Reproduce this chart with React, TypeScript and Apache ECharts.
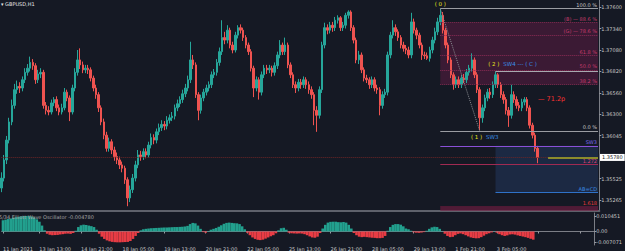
import React, { useEffect, useRef } from "react";
import * as echarts from "echarts";

// ---------- data ----------
const dateLabels = ["11 Jan 2021", "13 Jan 13:00", "14 Jan 21:00", "18 Jan 05:00", "19 Jan 13:00", "20 Jan 21:00", "22 Jan 05:00", "25 Jan 13:00", "26 Jan 21:00", "28 Jan 05:00", "29 Jan 13:00", "1 Feb 21:00", "3 Feb 05:00"];
const priceTicks = [1.376, 1.3734, 1.3708, 1.3682, 1.3656, 1.363, 1.36045, 1.35525, 1.35265];
const oscTicks = [0.010451, 0, -0.007071];

const firstOpen = 1.3541;
const closes = [
  1.3553, 1.3575, 1.3599, 1.3621, 1.3641, 1.3660, 1.3664, 1.3662, 1.3672, 1.3681,
  1.3686, 1.3693, 1.3689, 1.3672, 1.3679, 1.3681, 1.3641, 1.3635, 1.3633, 1.3644,
  1.3648, 1.3638, 1.3633, 1.3638, 1.3657, 1.3650, 1.3633, 1.3662, 1.3681, 1.3696,
  1.3690, 1.3684, 1.3686, 1.3684, 1.3674, 1.3662, 1.3654, 1.3638, 1.3621, 1.3605,
  1.3589, 1.3597, 1.3587, 1.3579, 1.3575, 1.3569, 1.3565, 1.3551, 1.3529, 1.3539,
  1.3553, 1.3569, 1.3581, 1.3579, 1.3585, 1.3581, 1.3593, 1.3602, 1.3599, 1.3609,
  1.3614, 1.3618, 1.3616, 1.3623, 1.3626, 1.3628, 1.3638, 1.3643, 1.3648, 1.3655,
  1.3662, 1.3672, 1.3696, 1.3690, 1.3654, 1.3635, 1.3650, 1.3657, 1.3662, 1.3666,
  1.3678, 1.3681, 1.3693, 1.3706, 1.3723, 1.3720, 1.3732, 1.3714, 1.3708, 1.3726,
  1.3735, 1.3732, 1.3723, 1.3714, 1.3706, 1.3686, 1.3662, 1.3672, 1.3657, 1.3678,
  1.3686, 1.3684, 1.3686, 1.3681, 1.3689, 1.3702, 1.3714, 1.3706, 1.3714, 1.3690,
  1.3678, 1.3666, 1.3662, 1.3669, 1.3666, 1.3672, 1.3666, 1.3660, 1.3654, 1.3635,
  1.3629, 1.3660, 1.3714, 1.3735, 1.3732, 1.3738, 1.3735, 1.3744, 1.3747, 1.3735,
  1.3738, 1.3750, 1.3754, 1.3735, 1.3720, 1.3696, 1.3702, 1.3684, 1.3674, 1.3672,
  1.3666, 1.3672, 1.3662, 1.3660, 1.3641, 1.3654, 1.3657, 1.3702, 1.3726, 1.3735,
  1.3730, 1.3723, 1.3714, 1.3710, 1.3708, 1.3702, 1.3742, 1.3732, 1.3726, 1.3714,
  1.3702, 1.3701, 1.3698, 1.3708, 1.3720, 1.3730, 1.3742, 1.3750, 1.3732, 1.3714,
  1.3696, 1.3678, 1.3666, 1.3672, 1.3666, 1.3674, 1.3672, 1.3681, 1.3686, 1.3696,
  1.3678, 1.3660, 1.3626, 1.3638, 1.3650, 1.3657, 1.3654, 1.3666, 1.3678, 1.3666,
  1.3654, 1.3648, 1.3635, 1.3629, 1.3654, 1.3648, 1.3641, 1.3638, 1.3645, 1.3648,
  1.3638, 1.3617, 1.3605, 1.3589, 1.3578,
];
const highs = [
  1.3560, 1.3581, 1.3604, 1.3626, 1.3648, 1.3667, 1.3671, 1.3669, 1.3676, 1.3686,
  1.3691, 1.3700, 1.3697, 1.3692, 1.3684, 1.3686, 1.3684, 1.3645, 1.3640, 1.3648,
  1.3651, 1.3652, 1.3642, 1.3643, 1.3662, 1.3660, 1.3653, 1.3666, 1.3686, 1.3708,
  1.3710, 1.3694, 1.3690, 1.3690, 1.3687, 1.3677, 1.3666, 1.3657, 1.3641, 1.3625,
  1.3609, 1.3602, 1.3600, 1.3591, 1.3584, 1.3579, 1.3573, 1.3568, 1.3554, 1.3544,
  1.3558, 1.3574, 1.3587, 1.3586, 1.3589, 1.3589, 1.3597, 1.3607, 1.3606, 1.3613,
  1.3619, 1.3623, 1.3622, 1.3628, 1.3630, 1.3633, 1.3642, 1.3648, 1.3652, 1.3660,
  1.3667, 1.3677, 1.3718, 1.3702, 1.3693, 1.3657, 1.3654, 1.3661, 1.3666, 1.3670,
  1.3682, 1.3685, 1.3697, 1.3711, 1.3744, 1.3730, 1.3738, 1.3735, 1.3718, 1.3730,
  1.3738, 1.3739, 1.3735, 1.3726, 1.3717, 1.3709, 1.3689, 1.3676, 1.3675, 1.3682,
  1.3690, 1.3690, 1.3690, 1.3689, 1.3693, 1.3706, 1.3720, 1.3717, 1.3723, 1.3717,
  1.3693, 1.3681, 1.3670, 1.3673, 1.3673, 1.3676, 1.3675, 1.3670, 1.3664, 1.3657,
  1.3640, 1.3664, 1.3718, 1.3741, 1.3739, 1.3742, 1.3742, 1.3748, 1.3750, 1.3749,
  1.3742, 1.3753, 1.3756, 1.3756, 1.3738, 1.3723, 1.3707, 1.3705, 1.3687, 1.3678,
  1.3675, 1.3676, 1.3675, 1.3666, 1.3663, 1.3658, 1.3661, 1.3706, 1.3730, 1.3744,
  1.3739, 1.3733, 1.3726, 1.3718, 1.3714, 1.3712, 1.3753, 1.3746, 1.3735, 1.3729,
  1.3717, 1.3706, 1.3705, 1.3712, 1.3724, 1.3735, 1.3747, 1.3758, 1.3754, 1.3735,
  1.3717, 1.3699, 1.3681, 1.3676, 1.3676, 1.3678, 1.3679, 1.3685, 1.3690, 1.3704,
  1.3699, 1.3681, 1.3663, 1.3642, 1.3654, 1.3661, 1.3662, 1.3670, 1.3682, 1.3680,
  1.3669, 1.3658, 1.3651, 1.3639, 1.3666, 1.3658, 1.3652, 1.3645, 1.3649, 1.3651,
  1.3651, 1.3641, 1.3620, 1.3608, 1.3592,
];
const lows = [
  1.3536, 1.3549, 1.3570, 1.3595, 1.3617, 1.3637, 1.3655, 1.3656, 1.3658, 1.3668,
  1.3677, 1.3682, 1.3684, 1.3667, 1.3668, 1.3674, 1.3637, 1.3630, 1.3629, 1.3630,
  1.3640, 1.3634, 1.3629, 1.3630, 1.3635, 1.3646, 1.3622, 1.3630, 1.3658, 1.3677,
  1.3685, 1.3680, 1.3680, 1.3679, 1.3670, 1.3658, 1.3649, 1.3633, 1.3617, 1.3600,
  1.3585, 1.3585, 1.3582, 1.3574, 1.3570, 1.3564, 1.3560, 1.3546, 1.3519, 1.3524,
  1.3535, 1.3549, 1.3565, 1.3574, 1.3575, 1.3577, 1.3578, 1.3589, 1.3594, 1.3595,
  1.3605, 1.3610, 1.3611, 1.3612, 1.3619, 1.3622, 1.3624, 1.3634, 1.3639, 1.3644,
  1.3651, 1.3658, 1.3668, 1.3685, 1.3650, 1.3623, 1.3631, 1.3646, 1.3653, 1.3658,
  1.3662, 1.3674, 1.3677, 1.3689, 1.3702, 1.3715, 1.3716, 1.3710, 1.3704, 1.3705,
  1.3722, 1.3728, 1.3719, 1.3710, 1.3702, 1.3682, 1.3651, 1.3658, 1.3648, 1.3653,
  1.3674, 1.3679, 1.3680, 1.3676, 1.3677, 1.3685, 1.3698, 1.3702, 1.3702, 1.3686,
  1.3674, 1.3662, 1.3656, 1.3658, 1.3661, 1.3662, 1.3661, 1.3655, 1.3649, 1.3617,
  1.3609, 1.3625, 1.3656, 1.3710, 1.3727, 1.3728, 1.3730, 1.3731, 1.3740, 1.3731,
  1.3731, 1.3734, 1.3746, 1.3731, 1.3716, 1.3692, 1.3691, 1.3680, 1.3670, 1.3668,
  1.3661, 1.3662, 1.3658, 1.3655, 1.3629, 1.3637, 1.3650, 1.3653, 1.3698, 1.3722,
  1.3725, 1.3719, 1.3710, 1.3706, 1.3703, 1.3698, 1.3698, 1.3728, 1.3721, 1.3710,
  1.3696, 1.3697, 1.3696, 1.3694, 1.3704, 1.3716, 1.3726, 1.3738, 1.3728, 1.3710,
  1.3692, 1.3674, 1.3660, 1.3662, 1.3662, 1.3662, 1.3668, 1.3668, 1.3677, 1.3682,
  1.3674, 1.3656, 1.3611, 1.3620, 1.3634, 1.3646, 1.3649, 1.3650, 1.3662, 1.3662,
  1.3650, 1.3643, 1.3630, 1.3615, 1.3625, 1.3644, 1.3637, 1.3634, 1.3634, 1.3641,
  1.3634, 1.3613, 1.3601, 1.3585, 1.3571,
];
const osc = [
  0.0075, 0.0080, 0.0084, 0.0088, 0.0092, 0.0096, 0.0099, 0.0102, 0.0104, 0.0105,
  0.0104, 0.0101, 0.0094, 0.0082, 0.0066, 0.0040, 0.0008, -0.0015, -0.0022, -0.0025,
  -0.0024, -0.0023, -0.0020, -0.0018, -0.0015, -0.0014, -0.0016, -0.0010, 0.0005, 0.0030,
  0.0042, 0.0046, 0.0044, 0.0040, 0.0036, 0.0030, 0.0012, -0.0015, -0.0035, -0.0050,
  -0.0060, -0.0066, -0.0070, -0.0072, -0.0073, -0.0073, -0.0072, -0.0071, -0.0070, -0.0064,
  -0.0050, -0.0030, -0.0010, 0.0008, 0.0015, 0.0018, 0.0020, 0.0022, 0.0023, 0.0024,
  0.0025, 0.0026, 0.0027, 0.0027, 0.0028, 0.0029, 0.0030, 0.0030, 0.0031, 0.0032,
  0.0034, 0.0038, 0.0050, 0.0058, 0.0055, 0.0040, 0.0018, -0.0004, -0.0008, 0.0003,
  0.0012, 0.0018, 0.0024, 0.0032, 0.0042, 0.0052, 0.0058, 0.0060, 0.0058, 0.0056,
  0.0055, 0.0050, 0.0035, 0.0015, -0.0008, -0.0025, -0.0040, -0.0050, -0.0056, -0.0058,
  -0.0055, -0.0048, -0.0040, -0.0032, -0.0025, -0.0012, 0.0008, 0.0022, 0.0025, 0.0012,
  -0.0008, -0.0012, -0.0013, -0.0014, -0.0013, -0.0014, -0.0018, -0.0025, -0.0033, -0.0040,
  -0.0042, -0.0035, -0.0010, 0.0020, 0.0045, 0.0060, 0.0065, 0.0066, 0.0066, 0.0063,
  0.0062, 0.0064, 0.0060, 0.0045, 0.0020, -0.0010, -0.0025, -0.0035, -0.0038, -0.0036,
  -0.0038, -0.0040, -0.0042, -0.0043, -0.0045, -0.0045, -0.0043, -0.0030, 0.0005, 0.0030,
  0.0045, 0.0050, 0.0050, 0.0046, 0.0035, 0.0020, 0.0015, 0.0005, -0.0005, -0.0008,
  -0.0009, -0.0007, -0.0004, 0.0005, 0.0018, 0.0028, 0.0032, 0.0030, 0.0018, 0.0002,
  -0.0015, -0.0030, -0.0038, -0.0036, -0.0025, -0.0016, -0.0013, -0.0018, -0.0025, -0.0033,
  -0.0040, -0.0044, -0.0046, -0.0045, -0.0038, -0.0028, -0.0018, -0.0012, -0.0006, 0.0002,
  -0.0008, -0.0018, -0.0025, -0.0030, -0.0026, -0.0020, -0.0018, -0.0021, -0.0026, -0.0030,
  -0.0034, -0.0038, -0.0043, -0.0049, -0.0055,
];

// Elliott wave pivots (candle index and price)
const wave0 = { idx: 167, price: 1.3758 };
const wave1 = { idx: 182, price: 1.3610 };
const wave2 = { idx: 188, price: 1.3682 };
const fibRatios = [1, 0.886, 0.786, 0.618, 0.5, 0.382, 0];
const fibNames = ["100.0 %", "(B) — 88.6 %", "(G) — 78.6 %", "61.8 %", "50.0 %", "38.2 %", "0.0 %"];
const extRatios = [1.272, 1.618];
const sw3Level = 1.3592;
const abcdLevel = 1.3536;
const lastPrice = 1.3578;
const pipsLevel = 1.3649;
const pipsText = "71.2p";
const oscValueText = "-0.004780";

// ---------- layout / style ----------
const SLOTS = 228; // candle slots incl. right-side shift
const FIRST_TICK = 14;
const TICK_STEP = 16;
const ASK_FROM = 208;
const Y_MIN = 1.35132;
const Y_MAX = 1.37685;
const BG = "#151924";
const FONT = "DejaVu Sans";
const BULL = "#26a69a";
const BEAR = "#ef5350";
const PINK = "#c43a6c";
const YELLOW = "#e8e41c";
const BLUE = "#3a8ee6";

export default function App() {
  const ref = useRef<HTMLDivElement>(null);

  useEffect(() => {
    const chart = echarts.init(ref.current!, null, { renderer: "svg" });
    const cats = Array.from({ length: SLOTS }, (_, i) => String(i));
    const isTick = (i: number) => i === 0 || (i >= FIRST_TICK && (i - FIRST_TICK) % TICK_STEP === 0);
    const tickText = (i: number) => (i === 0 ? dateLabels[0] : dateLabels[(i - FIRST_TICK) / TICK_STEP + 1] ?? "");
    const last = SLOTS - 1;

    const candles = closes.map((c, i) => [i === 0 ? firstOpen : closes[i - 1], c, lows[i], highs[i]]);
    const range = wave0.price - wave1.price;
    const fibLevel = (r: number) => wave1.price + r * range;
    const extLevel = (r: number) => wave0.price - r * range;

    const lbl = (text: string, color: string) => ({
      show: true,
      position: "insideEndTop",
      formatter: text,
      color,
      fontSize: 5,
      fontFamily: FONT,
      distance: [1, 1],
    });
    const seg = (from: number, v: number, color: string, type: string, label?: any, width = 1) => [
      { coord: [from, v], lineStyle: { color, type, width }, label: label ?? { show: false } },
      { coord: [last, v] },
    ];

    const markLines: any[] = [];
    // current bid dotted line across chart
    markLines.push([
      {
        coord: [0, lastPrice],
        lineStyle: { color: "#6e2626", type: "dotted", width: 1 },
        label: {
          show: true, position: "end", formatter: lastPrice.toFixed(5), backgroundColor: "#ffffff",
          color: "#111", fontSize: 5, fontFamily: FONT, padding: [1, 2, 1, 2], distance: 2,
        },
      },
      { coord: [last, lastPrice] },
    ]);
    fibRatios.forEach((r, k) => {
      const solid = r === 1 || r === 0;
      markLines.push(seg(wave0.idx, fibLevel(r), solid ? "#9a9ca2" : "#8e2c56", solid ? "solid" : "dotted",
        lbl(fibNames[k], solid ? "#c8c8c8" : PINK)));
    });
    markLines.push(seg(wave2.idx, wave2.price, "#a8aab0", "solid"));
    markLines.push(seg(wave0.idx, sw3Level, "#8a50d8", "solid", lbl("SW3", "#7f6cf0")));
    markLines.push(seg(wave0.idx, extLevel(extRatios[0]), "#a02a52", "solid", lbl("1.272", "#d84478")));
    markLines.push(seg(wave2.idx, abcdLevel, "#2f72c8", "solid", lbl("AB=CD", BLUE)));
    markLines.push(seg(wave0.idx, extLevel(extRatios[1]), "#4e1a34", "solid", lbl("1.618", "#e83a3a")));
    markLines.push(seg(ASK_FROM, lastPrice, "#8c8c2c", "solid", undefined, 2));
    markLines.push([
      { coord: [wave0.idx, wave0.price], lineStyle: { color: "#8a8c92", type: "dotted", width: 1 }, label: { show: false } },
      { coord: [wave1.idx, wave1.price] },
    ]);

    const option: any = {
      animation: false,
      backgroundColor: BG,
      textStyle: { fontFamily: FONT },
      title: [
        { text: "▾ GBPUSD,H1", left: 1, top: 1, padding: 0, textStyle: { color: "#e6e6e6", fontSize: 5, fontWeight: "normal", fontFamily: FONT } },
        { text: "5/34 Elliott Wave Oscillator " + oscValueText, left: -1, top: 214, padding: 0, textStyle: { color: "#a8a8a8", fontSize: 5, fontWeight: "normal", fontFamily: FONT } },
      ],
      grid: [
        { left: 0, right: 25, top: 0, height: 211 },
        { left: 0, right: 25, top: 213, height: 32 },
      ],
      xAxis: [
        {
          type: "category", data: cats, gridIndex: 0,
          axisLine: { show: true, lineStyle: { color: "#5e616b", width: 2 } },
          axisTick: { show: false }, axisLabel: { show: false }, splitLine: { show: false },
        },
        {
          type: "category", data: cats, gridIndex: 1,
          axisLine: { show: true, lineStyle: { color: "#7b7e86", width: 1 } },
          axisTick: { show: true, alignWithLabel: true, interval: (i: number) => isTick(i), length: 2, lineStyle: { color: "#9a9ca2" } },
          axisLabel: { interval: (i: number) => isTick(i), formatter: (_v: string, i: number) => tickText(i), align: "left", color: "#c8c8c8", fontSize: 5, fontFamily: FONT, margin: 1 },
          splitLine: { show: false },
        },
      ],
      yAxis: [
        {
          type: "value", gridIndex: 0, position: "right", min: Y_MIN, max: Y_MAX, scale: true,
          axisLine: { show: true, lineStyle: { color: "#7b7e86" } },
          axisTick: { show: true, customValues: priceTicks, length: 2, lineStyle: { color: "#9a9ca2" } },
          axisLabel: { customValues: priceTicks, formatter: (v: number) => v.toFixed(5), color: "#c8c8c8", fontSize: 5, fontFamily: FONT, margin: 2 },
          splitLine: { show: false },
        },
        {
          type: "value", gridIndex: 1, position: "right", min: -0.0091, max: 0.01247,
          axisLine: { show: true, lineStyle: { color: "#7b7e86" } },
          axisTick: { show: true, customValues: oscTicks, length: 2, lineStyle: { color: "#9a9ca2" } },
          axisLabel: { customValues: oscTicks, formatter: (v: number) => (v === 0 ? "0.00" : v.toFixed(6)), color: "#c8c8c8", fontSize: 5, fontFamily: FONT, margin: 2 },
          splitLine: { show: false },
        },
      ],
      series: [
        {
          type: "candlestick", xAxisIndex: 0, yAxisIndex: 0, data: candles, barWidth: 2,
          itemStyle: { color: BULL, color0: BEAR, borderColor: BULL, borderColor0: BEAR, borderWidth: 1 },
          markArea: {
            silent: true,
            data: [
              [{ coord: [wave0.idx, fibLevel(0.886)], itemStyle: { color: "rgba(140,32,86,0.32)" } }, { coord: [last, fibLevel(0.382)] }],
              [{ coord: [wave2.idx, sw3Level], itemStyle: { color: "rgba(50,90,160,0.25)" } }, { coord: [last, abcdLevel] }],
              [{ coord: [wave0.idx, extLevel(extRatios[1])], itemStyle: { color: "rgba(120,28,66,0.6)" } }, { coord: [last, Y_MIN] }],
            ],
          },
          markLine: { silent: true, precision: 5, symbol: ["none", "none"], label: { show: false }, data: markLines },
          markPoint: {
            silent: true, symbol: "rect", symbolSize: 1, itemStyle: { color: "rgba(0,0,0,0)" },
            data: [
              { coord: [wave0.idx, highs[wave0.idx]], label: { show: true, position: "top", distance: 1, formatter: "( 0 )", color: YELLOW, fontSize: 5.5, fontFamily: FONT } },
              {
                coord: [wave1.idx, lows[wave1.idx]],
                label: { show: true, position: "bottom", distance: 0, offset: [5, 0], formatter: "{y|( 1 )} {b|SW3}", rich: { y: { color: YELLOW, fontSize: 5.5, fontFamily: FONT }, b: { color: BLUE, fontSize: 5.5, fontFamily: FONT } } },
              },
              {
                coord: [wave2.idx, highs[wave2.idx]],
                label: { show: true, position: "top", distance: 1, offset: [17, 0], formatter: "{y|( 2 )} {b|SW4 --- ( C )}", rich: { y: { color: YELLOW, fontSize: 5.5, fontFamily: FONT }, b: { color: BLUE, fontSize: 5.5, fontFamily: FONT } } },
              },
              { coord: [closes.length - 1, pipsLevel], label: { show: true, position: "right", distance: 0, formatter: "— " + pipsText, color: "#ff3232", fontSize: 6.5, fontFamily: FONT } },
            ],
          },
        },
        {
          type: "bar", xAxisIndex: 1, yAxisIndex: 1, barCategoryGap: "0%",
          data: osc.map((v) => ({ value: v, itemStyle: { color: v >= 0 ? "#22a08e" : "#e83c44" } })),
        },
      ],
    };
    chart.setOption(option);
    return () => chart.dispose();
  }, []);

  return <div ref={ref} style={{ position: "fixed", left: 0, top: 0, width: 625, height: 251, background: BG }} />;
}
